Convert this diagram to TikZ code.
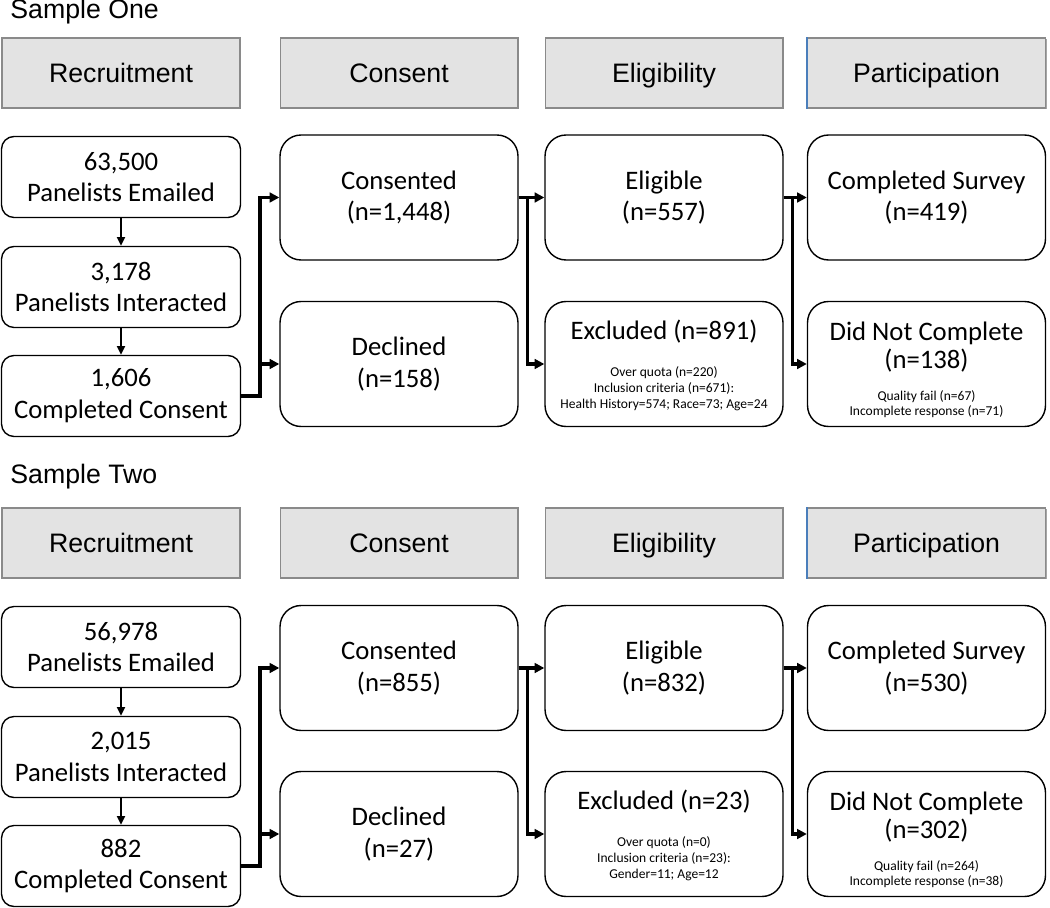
\documentclass[tikz,border=0pt]{standalone}
\usepackage{fontspec}
\setmainfont{Carlito}
\newfontfamily\headfont{Liberation Sans}
\usetikzlibrary{positioning, arrows.meta, shadows}

\definecolor{headgray}{HTML}{E3E3E3}
\definecolor{headline}{HTML}{8A8A8A}
\definecolor{edgeblue}{HTML}{4A7EBB}
\newcommand{\smalltxt}{\fontsize{7.7}{9}\selectfont}
\newcommand{\smalllines}[1]{{\smalltxt\begin{tabular}[t]{@{}c@{}}#1\end{tabular}}}

\tikzset{
  title/.style={anchor=base west, inner sep=0pt, font=\headfont\fontsize{15.2}{18}\selectfont},
  head/.style={draw=headline, fill=headgray, line width=0.6pt, minimum width=4.76cm, minimum height=1.4cm,
    text height=10.9pt, text depth=0pt, font=\headfont\fontsize{15.2}{18}\selectfont,
    drop shadow={shadow xshift=0.7pt, shadow yshift=-0.7pt, fill=black, opacity=0.35}},
  recbox/.style={draw, line width=0.8pt, rounded corners=0.25cm, minimum width=4.78cm, minimum height=1.62cm,
    align=center, font=\fontsize{15.2}{18.1}\selectfont},
  bigbox/.style={recbox, rounded corners=0.42cm, minimum width=4.76cm, minimum height=2.5cm},
  link/.style={line width=2pt, -{Triangle[length=5.5pt,width=5.5pt]}},
  down/.style={line width=1.2pt, -{Triangle[length=5pt,width=4.5pt]}}
}

\begin{document}
\begin{tikzpicture}[x=0.02cm, y=-0.02cm]
\useasboundingbox (0,0) rectangle (1050,908);

% Sample One
\node[title](T1) at (10,19) {Sample One};

\node[head](H1a) at (121,73) {Recruitment};
\node[head](H1b) at (399,73) {Consent};
\node[head](H1c) at (664,73) {Eligibility};
\node[head](H1d) at (926.5,73) {Participation};
\draw[edgeblue, line width=0.8pt] (H1d.north west) -- (H1d.south west);

\node[recbox](R1a) at (121,177) {63,500\\Panelists Emailed};
\node[recbox](R1b) at (121,287) {3,178\\Panelists Interacted};
\node[recbox](R1c) at (121,396) {1,606\\Completed Consent};

\node[bigbox](C1a) at (399,197.5) {Consented\\(n=1,448)};
\node[bigbox](C1b) at (399,364) {Declined\\(n=158)};

\node[bigbox](E1a) at (664,197.5) {Eligible\\(n=557)};
\node[bigbox](E1b) at (664,364) {\rule{0pt}{14pt}Excluded (n=891)\\[3pt]\smalllines{Over quota (n=220)\\Inclusion criteria (n=671):\\Health History=574; Race=73; Age=24}};

\node[bigbox](P1a) at (926.5,197.5) {Completed Survey\\(n=419)};
\node[bigbox](P1b) at (926.5,364) {\rule{0pt}{19pt}Did Not Complete\\[-2.5pt](n=138)\\[0pt]\smalllines{Quality fail (n=67)\\Incomplete response (n=71)}};

\draw[down] (R1a) -- (R1b);
\draw[down] (R1b) -- (R1c);
\draw[link] (R1c.east) -- ++(19,0) |- (C1a.west);
\draw[link] (R1c.east) -- ++(19,0) |- (C1b.west);
\draw[link] (C1a.east) -- (E1a.west);
\draw[link] (C1a.east) -- ++(9,0) |- (E1b.west);
\draw[link] (E1a.east) -- (P1a.west);
\draw[link] (E1a.east) -- ++(9,0) |- (P1b.west);

% Sample Two
\node[title](T2) at (10,483) {Sample Two};

\node[head](H2a) at (121,543) {Recruitment};
\node[head](H2b) at (399,543) {Consent};
\node[head](H2c) at (664,543) {Eligibility};
\node[head](H2d) at (926.5,543) {Participation};
\draw[edgeblue, line width=0.8pt] (H2d.north west) -- (H2d.south west);

\node[recbox](R2a) at (121,647) {56,978\\Panelists Emailed};
\node[recbox](R2b) at (121,757) {2,015\\Panelists Interacted};
\node[recbox](R2c) at (121,866) {882\\Completed Consent};

\node[bigbox](C2a) at (399,668) {Consented\\(n=855)};
\node[bigbox](C2b) at (399,834) {Declined\\(n=27)};

\node[bigbox](E2a) at (664,668) {Eligible\\(n=832)};
\node[bigbox](E2b) at (664,834) {\rule{0pt}{14pt}Excluded (n=23)\\[3pt]\smalllines{Over quota (n=0)\\Inclusion criteria (n=23):\\Gender=11; Age=12}};

\node[bigbox](P2a) at (926.5,668) {Completed Survey\\(n=530)};
\node[bigbox](P2b) at (926.5,834) {\rule{0pt}{19pt}Did Not Complete\\[-2.5pt](n=302)\\[0pt]\smalllines{Quality fail (n=264)\\Incomplete response (n=38)}};

\draw[down] (R2a) -- (R2b);
\draw[down] (R2b) -- (R2c);
\draw[link] (R2c.east) -- ++(19,0) |- (C2a.west);
\draw[link] (R2c.east) -- ++(19,0) |- (C2b.west);
\draw[link] (C2a.east) -- (E2a.west);
\draw[link] (C2a.east) -- ++(9,0) |- (E2b.west);
\draw[link] (E2a.east) -- (P2a.west);
\draw[link] (E2a.east) -- ++(9,0) |- (P2b.west);
\end{tikzpicture}
\end{document}
